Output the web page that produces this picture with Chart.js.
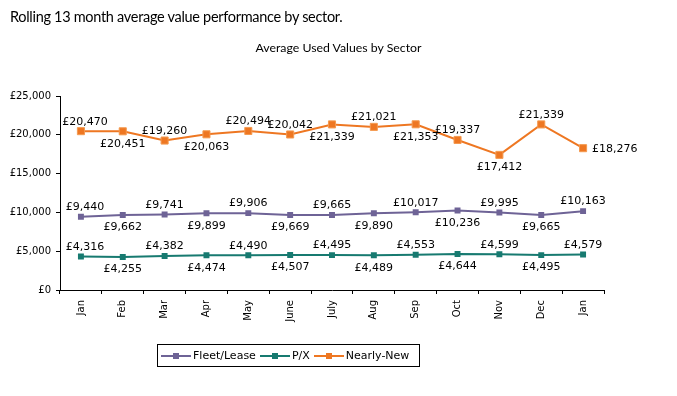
<!DOCTYPE html>
<html>
<head>
<meta charset="utf-8">
<script src="https://cdn.jsdelivr.net/npm/chart.js@4/dist/chart.umd.min.js"></script>
<style>
  body { margin: 0; background: #fff; }
  #wrap { position: relative; width: 677px; height: 396px; overflow: hidden; }
  #pagetitle { position: absolute; left: 10px; top: 8px; font: 14.5px Lato, sans-serif; letter-spacing: -0.3px; color: #000; white-space: nowrap; }
  #charttitle { position: absolute; left: 0; width: 677px; top: 40px; text-align: center; font: 12.3px Lato, sans-serif; color: #000; }
  #legend { position: absolute; left: 157px; top: 344px; width: 258px; height: 21px; border: 1px solid #000;
            font: 11px "DejaVu Sans", sans-serif; display: flex; align-items: center; padding-left: 3px; box-sizing: content-box; }
  .item { display: flex; align-items: center; margin-right: 4px; }
  .line { position: relative; width: 30px; height: 2px; margin-right: 2px; }
  .mark { position: absolute; left: 12px; top: -2px; width: 6px; height: 6px; }
  canvas { position: absolute; left: 0; top: 0; }
</style>
</head>
<body>
<div id="wrap">
  <canvas id="grafica" width="677" height="396"></canvas>
  <div id="pagetitle">Rolling 13 month average value performance by sector.</div>
  <div id="charttitle">Average Used Values by Sector</div>
  <div id="legend"></div>
</div>
<script>
const meses = ["Jan", "Feb", "Mar", "Apr", "May", "June", "July", "Aug", "Sep", "Oct", "Nov", "Dec", "Jan"];
const series = ["Fleet/Lease", "P/X", "Nearly-New"];
const fleetLease = [9440, 9662, 9741, 9899, 9906, 9669, 9665, 9890, 10017, 10236, 9995, 9665, 10163];
const partEx = [4316, 4255, 4382, 4474, 4490, 4507, 4495, 4489, 4553, 4644, 4599, 4495, 4579];
const nearlyNew = [20470, 20451, 19260, 20063, 20494, 20042, 21339, 21021, 21353, 19337, 17412, 21339, 18276];
const yTicks = [0, 5000, 10000, 15000, 20000, 25000];

const colores = ['#6E6396', '#177A70', '#EE7722'];

// where each data label sits: a = above, b = below, r = right
const posFleet = ['a','b','a','b','a','b','a','b','a','b','a','b','a'];
const posPX = ['a','b','a','b','a','b','a','b','a','b','a','b','a'];
const posNN = ['a','b','a','b','a','a','b','a','b','a','b','a','r'];

function libra(v) {
  return '£' + v.toLocaleString('en-GB');
}

const etiquetas = {
  id: 'etiquetas',
  afterDatasetsDraw(chart) {
    const ctx = chart.ctx;
    ctx.save();
    ctx.font = '11px "DejaVu Sans", sans-serif';
    ctx.fillStyle = '#000';
    chart.data.datasets.forEach((ds, i) => {
      const meta = chart.getDatasetMeta(i);
      meta.data.forEach((pt, j) => {
        const p = ds.labelPos[j];
        const txt = libra(ds.data[j]);
        // first label is kept inside the plot area, like the original
        const dx = j === 0 ? 4 : 0;
        if (p === 'r') {
          ctx.textAlign = 'left';
          ctx.textBaseline = 'middle';
          ctx.fillText(txt, pt.x + 9, pt.y + 1);
        } else if (p === 'a') {
          ctx.textAlign = 'center';
          ctx.textBaseline = 'bottom';
          ctx.fillText(txt, pt.x + dx, pt.y - 4);
        } else {
          ctx.textAlign = 'center';
          ctx.textBaseline = 'top';
          ctx.fillText(txt, pt.x + dx, pt.y + 7);
        }
      });
    });
    ctx.restore();
  }
};

const datos = [fleetLease, partEx, nearlyNew];
const posiciones = [posFleet, posPX, posNN];

const config = {
  type: 'line',
  data: {
    labels: meses,
    datasets: series.map((s, i) => ({
      label: s,
      data: datos[i],
      labelPos: posiciones[i],
      borderColor: colores[i],
      backgroundColor: colores[i],
      borderWidth: 2,
      pointStyle: 'rect',
      pointRadius: i === 2 ? 5 : 4.2,
      pointBorderWidth: i === 2 ? 1 : 0,
      pointBorderColor: i === 2 ? '#F49A50' : colores[i],
      pointBackgroundColor: colores[i],
      tension: 0
    }))
  },
  options: {
    responsive: false,
    animation: false,
    devicePixelRatio: 1,
    layout: { padding: { left: 0, right: 73, top: 96, bottom: 46 } },
    plugins: { legend: { display: false }, title: { display: false }, tooltip: { enabled: false } },
    scales: {
      x: {
        offset: true,
        grid: { offset: true, drawOnChartArea: false, drawTicks: true, tickLength: 4, color: '#000' },
        border: { color: '#000', width: 1 },
        ticks: { color: '#000', font: { family: 'DejaVu Sans', size: 10 }, maxRotation: 90, minRotation: 90, padding: 6, autoSkip: false },
        afterFit(scale) { scale.height = 60; }
      },
      y: {
        min: 0,
        max: 25000,
        afterBuildTicks(scale) { scale.ticks = yTicks.map(v => ({ value: v })); },
        grid: { drawOnChartArea: false, drawTicks: true, tickLength: 4, color: '#000' },
        border: { color: '#000', width: 1 },
        ticks: { color: '#000', font: { family: 'DejaVu Sans', size: 10 }, padding: 5, callback: v => libra(v) },
        afterFit(scale) { scale.width = 60; }
      }
    }
  },
  plugins: [etiquetas]
};

const ctx = document.getElementById('grafica');
const migrafica = new Chart(ctx, config);

// leyenda en HTML
const leyenda = document.getElementById('legend');
series.forEach((s, i) => {
  const item = document.createElement('div');
  item.classList.add('item');
  item.innerHTML = `
    <span class="line" style="background:${colores[i]}"><span class="mark" style="background:${colores[i]}"></span></span>
    <span>${s}</span>`;
  leyenda.appendChild(item);
});
</script>
</body>
</html>
